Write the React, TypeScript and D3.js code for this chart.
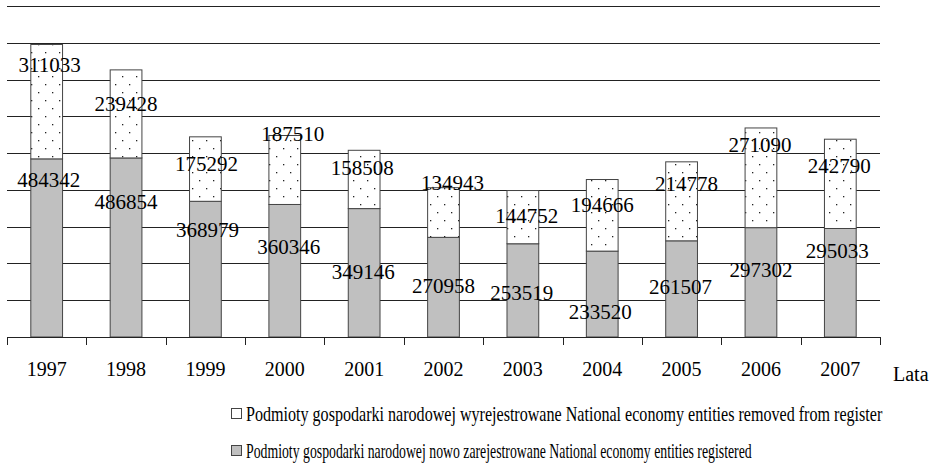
import * as d3 from 'd3';
import { useEffect, useRef } from 'react';

const years = ['1997', '1998', '1999', '2000', '2001', '2002', '2003', '2004', '2005', '2006', '2007'];
const registered = [484342, 486854, 368979, 360346, 349146, 270958, 253519, 233520, 261507, 297302, 295033];
const removed = [311033, 239428, 175292, 187510, 158508, 134943, 144752, 194666, 214778, 271090, 242790];
const gridValues = [100000, 200000, 300000, 400000, 500000, 600000, 700000, 800000, 900000];

const legendRemoved = 'Podmioty gospodarki narodowej wyrejestrowane  National economy entities removed from register';
const legendRegistered = 'Podmioty gospodarki narodowej nowo zarejestrowane  National economy entities registered';

// label nudges (px) relative to segment top, the source placed them by hand
const regLabelDy = [21, 44, 28, 42, 63, 48, 49, 61, 46, 42, 22];
const remLabelDy = [20, 34, 27, -2, 17, -5, 25, 25, 22, 17, 26];
const remLabelDx = [3, 0, 1, 8, -2, 9, 4, 0, 5, -1, -1];
const regLabelDx = [2, 0, 2, 4, -1, 0, -1, -2, -1, 0, -3];

const W = 933, H = 468;
const FONT = '"Liberation Serif", "Times New Roman", serif';

const App = () => {
    const svgRef = useRef<SVGSVGElement>(null);

    useEffect(() => {
        const svg = d3.select(svgRef.current);
        svg.selectAll('*').remove();

        const x = d3.scaleBand().domain(years).range([7, 880]).paddingInner(0.6).paddingOuter(0.3);
        const y = d3.scaleLinear().domain([0, 900000]).range([337, 6]);
        const step = x.step();
        const left = 7;

        const defs = svg.append('defs');
        const pat = defs.append('pattern')
            .attr('id', 'dots')
            .attr('patternUnits', 'userSpaceOnUse')
            .attr('width', 14)
            .attr('height', 16);
        pat.append('rect').attr('width', 14).attr('height', 16).attr('fill', '#fff');
        pat.append('rect').attr('x', 3).attr('y', 4).attr('width', 1.3).attr('height', 1.3).attr('fill', '#222');
        pat.append('rect').attr('x', 10).attr('y', 12).attr('width', 1.3).attr('height', 1.3).attr('fill', '#222');

        // grid
        svg.append('g')
            .selectAll('line')
            .data(gridValues)
            .enter()
            .append('line')
            .attr('x1', left)
            .attr('x2', 880)
            .attr('y1', d => Math.round(y(d)) + 0.5)
            .attr('y2', d => Math.round(y(d)) + 0.5)
            .attr('stroke', '#222')
            .attr('stroke-width', 1);

        // bars
        const g = svg.append('g');
        years.forEach((yr, i) => {
            const bx = x(yr)!;
            const bw = x.bandwidth();
            const yReg = y(registered[i]);
            const yTot = y(registered[i] + removed[i]);
            g.append('rect')
                .attr('x', bx)
                .attr('y', yReg)
                .attr('width', bw)
                .attr('height', y(0) - yReg)
                .attr('fill', '#c0c0c0')
                .attr('stroke', '#444')
                .attr('stroke-width', 1);
            g.append('rect')
                .attr('x', bx)
                .attr('y', yTot)
                .attr('width', bw)
                .attr('height', yReg - yTot)
                .attr('fill', 'url(#dots)')
                .attr('stroke', '#444')
                .attr('stroke-width', 1);
        });

        // axis
        const axis = svg.append('g');
        axis.append('line')
            .attr('x1', left).attr('x2', 880)
            .attr('y1', 337.5).attr('y2', 337.5)
            .attr('stroke', '#222');
        d3.range(years.length + 1).forEach(k => {
            const tx = Math.round(left + k * step) + 0.5;
            axis.append('line')
                .attr('x1', tx).attr('x2', tx)
                .attr('y1', 337).attr('y2', 345)
                .attr('stroke', '#222');
        });
        axis.selectAll('text.year')
            .data(years)
            .enter()
            .append('text')
            .attr('class', 'year')
            .attr('x', d => x(d)! + x.bandwidth() / 2)
            .attr('y', 376)
            .attr('text-anchor', 'middle')
            .attr('font-family', FONT)
            .attr('font-size', 20)
            .text(d => d);
        axis.append('text')
            .attr('x', 893)
            .attr('y', 381)
            .attr('font-family', FONT)
            .attr('font-size', 20)
            .text('Lata');

        // value labels
        const labels = svg.append('g')
            .attr('font-family', FONT)
            .attr('font-size', 21)
            .attr('text-anchor', 'middle');
        years.forEach((yr, i) => {
            const cx = x(yr)! + x.bandwidth() / 2;
            labels.append('text')
                .attr('x', cx + remLabelDx[i])
                .attr('y', y(registered[i] + removed[i]) + remLabelDy[i])
                .attr('dy', '0.35em')
                .text(removed[i]);
            labels.append('text')
                .attr('x', cx + regLabelDx[i])
                .attr('y', y(registered[i]) + regLabelDy[i])
                .attr('dy', '0.35em')
                .text(registered[i]);
        });

        // legend: the source text is horizontally condensed, squeeze it to fit
        const items = [
            { label: legendRemoved, fill: '#fff', end: 883, yy: 421 },
            { label: legendRegistered, fill: '#c0c0c0', end: 752, yy: 458 },
        ];
        items.forEach(it => {
            svg.append('rect')
                .attr('x', 231.5).attr('y', it.yy - 12.5)
                .attr('width', 10).attr('height', 10)
                .attr('fill', it.fill)
                .attr('stroke', '#444');
            const t = svg.append('text')
                .attr('font-family', FONT)
                .attr('font-size', 21)
                .attr('x', 0)
                .attr('y', 0)
                .text(it.label);
            const natural = (t.node() as SVGTextElement).getComputedTextLength();
            const k = (it.end - 246) / natural;
            t.attr('transform', `translate(246,${it.yy}) scale(${k},1)`);
        });

        return () => {
            svg.selectAll('*').remove();
        };
    }, []);

    return (
        <svg ref={svgRef} width={W} height={H}
            style={{ position: 'absolute', left: 0, top: 0, background: '#fff' }} />
    );
};

export default App;
